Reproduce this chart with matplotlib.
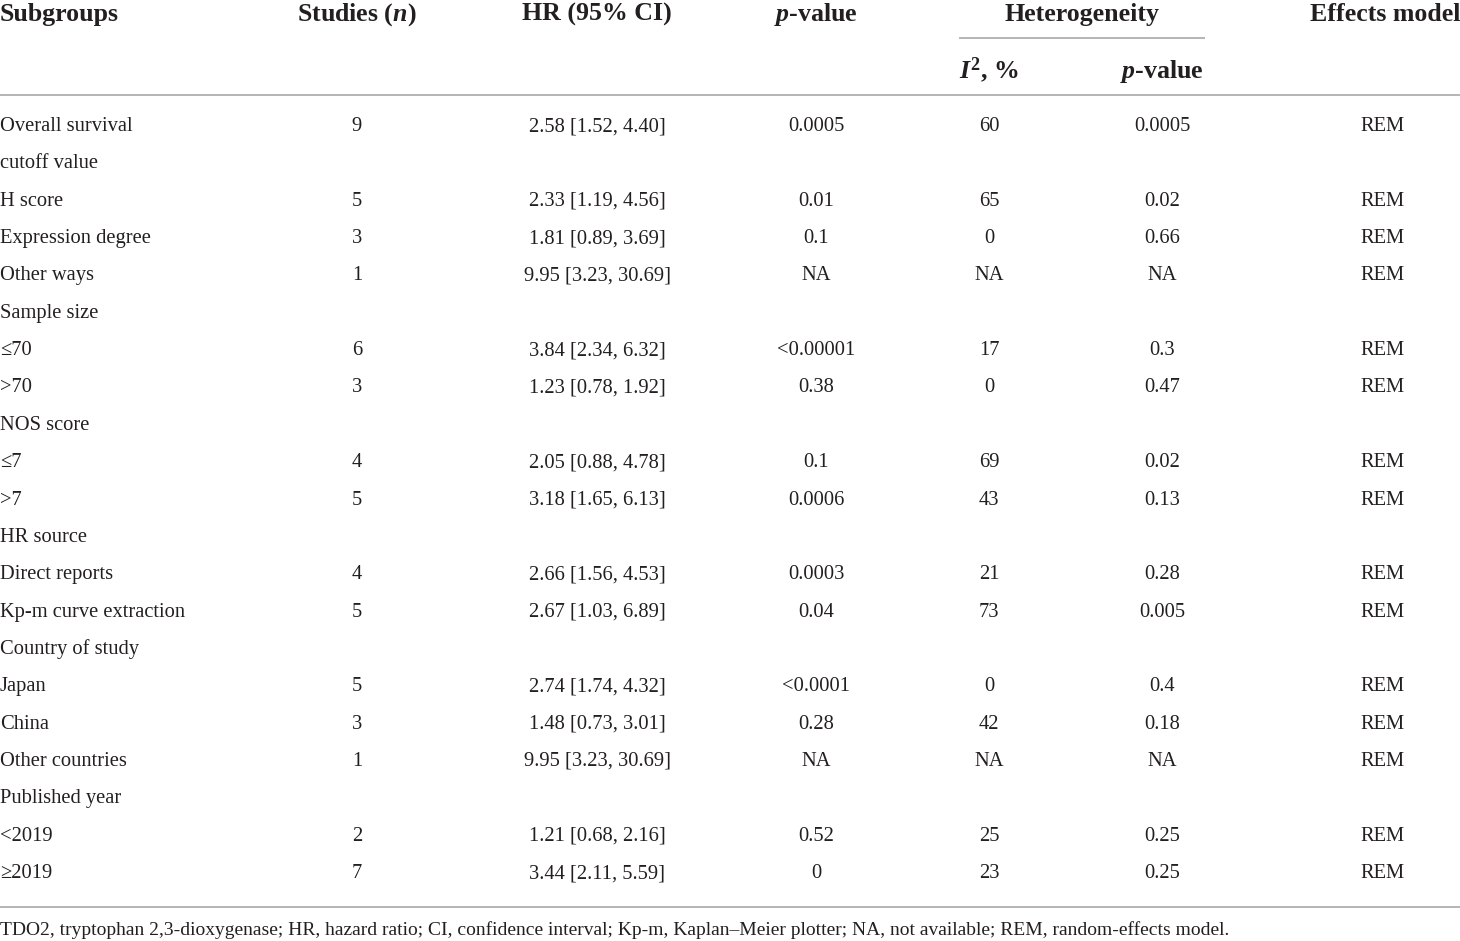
import matplotlib
matplotlib.use("Agg")
import matplotlib.pyplot as plt

plt.rcParams["font.family"] = ["Liberation Serif", "DejaVu Serif"]
plt.rcParams["mathtext.fontset"] = "custom"
plt.rcParams["mathtext.it"] = "Liberation Serif:italic:bold"
plt.rcParams["mathtext.rm"] = "Liberation Serif:bold"

subgroups = ["Overall survival", "cutoff value", "H score", "Expression degree", "Other ways",
             "Sample size", "\u226470", ">70", "NOS score", "\u22647", ">7", "HR source",
             "Direct reports", "Kp-m curve extraction", "Country of study", "Japan", "China",
             "Other countries", "Published year", "<2019", "\u22652019"]
studies = ["9", "", "5", "3", "1", "", "6", "3", "", "4", "5", "", "4", "5", "", "5", "3", "1", "", "2", "7"]
hr_ci = ["2.58 [1.52, 4.40]", "", "2.33 [1.19, 4.56]", "1.81 [0.89, 3.69]", "9.95 [3.23, 30.69]",
         "", "3.84 [2.34, 6.32]", "1.23 [0.78, 1.92]", "", "2.05 [0.88, 4.78]", "3.18 [1.65, 6.13]",
         "", "2.66 [1.56, 4.53]", "2.67 [1.03, 6.89]", "", "2.74 [1.74, 4.32]", "1.48 [0.73, 3.01]",
         "9.95 [3.23, 30.69]", "", "1.21 [0.68, 2.16]", "3.44 [2.11, 5.59]"]
p_values = ["0.0005", "", "0.01", "0.1", "NA", "", "<0.00001", "0.38", "", "0.1", "0.0006", "",
            "0.0003", "0.04", "", "<0.0001", "0.28", "NA", "", "0.52", "0"]
i2 = ["60", "", "65", "0", "NA", "", "17", "0", "", "69", "43", "", "21", "73", "", "0", "42", "NA",
      "", "25", "23"]
p_het = ["0.0005", "", "0.02", "0.66", "NA", "", "0.3", "0.47", "", "0.02", "0.13", "", "0.28",
         "0.005", "", "0.4", "0.18", "NA", "", "0.25", "0.25"]
models = ["REM", "", "REM", "REM", "REM", "", "REM", "REM", "", "REM", "REM", "", "REM", "REM", "",
          "REM", "REM", "REM", "", "REM", "REM"]
footnote = ("TDO2, tryptophan 2,3-dioxygenase; HR, hazard ratio; CI, confidence interval; "
            "Kp-m, Kaplan\u2013Meier plotter; NA, not available; REM, random-effects model.")

W, H = 1460, 941
fig = plt.figure(figsize=(W / 100, H / 100), dpi=100)
ax = fig.add_axes([0, 0, 1, 1])
ax.set_xlim(0, W)
ax.set_ylim(H, 0)
ax.axis("off")

txt_color = "#231f20"
body = 14.8
head = 18.6
rule = "#b4b4b4"

# header
hdr = dict(fontsize=head, fontweight="bold", va="baseline", color=txt_color)
ax.text(0, 21, "Subgroups", **hdr)
ax.text(357, 21, "Studies ($n$)", ha="center", **hdr)
ax.text(597, 21, "HR (95% CI)", ha="center", **hdr)
ax.text(816, 21, "$p$-value", ha="center", **hdr)
ax.text(1082, 21, "Heterogeneity", ha="center", **hdr)
ax.text(1460, 21, "Effects model", ha="right", **hdr)
ax.text(989, 78, "$I^2$, %", ha="center", **hdr)
ax.text(1162, 78, "$p$-value", ha="center", **hdr)

ax.plot([960, 1204], [38, 38], color=rule, lw=1.4)
ax.plot([0, W], [95, 95], color=rule, lw=1.4)
ax.plot([0, W], [907, 907], color=rule, lw=1.4)

row0, step = 131, 37.35
cols = [(studies, 357), (hr_ci, 597), (p_values, 816), (i2, 989), (p_het, 1162), (models, 1383)]
for i, name in enumerate(subgroups):
    y = row0 + i * step
    ax.text(0, y, name, fontsize=body, va="baseline", color=txt_color)
    for vals, x in cols:
        if vals[i]:
            ax.text(x, y, vals[i], fontsize=body, va="baseline", ha="center", color=txt_color)

ax.text(0, 935, footnote, fontsize=14, va="baseline", color=txt_color)

fig.savefig("out.png", dpi=100)
